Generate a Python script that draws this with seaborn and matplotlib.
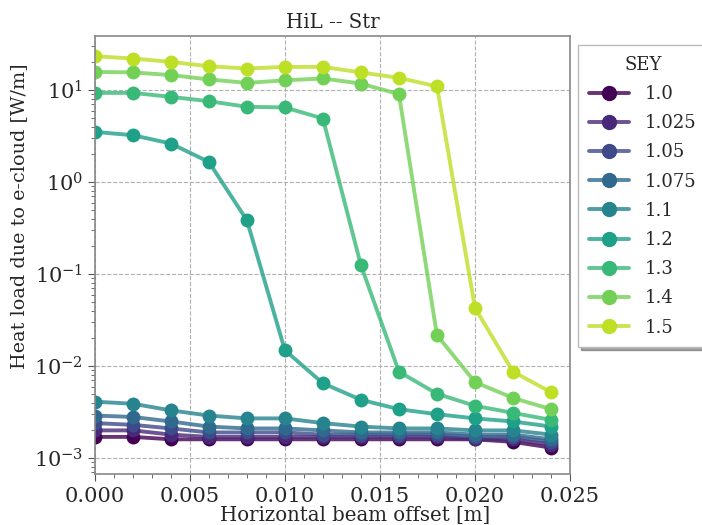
import numpy as np
import pandas as pd
import matplotlib
matplotlib.use("Agg")
import matplotlib.pyplot as plt
import seaborn as sns

offsets = [0.000, 0.002, 0.004, 0.006, 0.008, 0.010, 0.012, 0.014, 0.016, 0.018, 0.020, 0.022, 0.024]
sey_labels = ["1.0", "1.025", "1.05", "1.075", "1.1", "1.2", "1.3", "1.4", "1.5"]

hl_100 = [0.0017, 0.0017, 0.0016, 0.0016, 0.0016, 0.0016, 0.0016, 0.0016, 0.0016, 0.0016, 0.0016, 0.0015, 0.0013]
hl_1025 = [0.0020, 0.0020, 0.0018, 0.0017, 0.0017, 0.0017, 0.0017, 0.0017, 0.0017, 0.0017, 0.0016, 0.0016, 0.0014]
hl_105 = [0.0024, 0.0023, 0.0021, 0.0019, 0.0019, 0.0019, 0.0018, 0.0018, 0.0018, 0.0018, 0.0017, 0.0017, 0.0015]
hl_1075 = [0.0029, 0.0028, 0.0025, 0.0022, 0.0021, 0.0021, 0.0020, 0.0019, 0.0019, 0.0019, 0.0018, 0.0018, 0.0016]
hl_110 = [0.0041, 0.0039, 0.0033, 0.0029, 0.0027, 0.0027, 0.0024, 0.0022, 0.0021, 0.0021, 0.0020, 0.0020, 0.0018]
hl_120 = [3.52, 3.24, 2.63, 1.66, 0.386, 0.0149, 0.0065, 0.0043, 0.0034, 0.0030, 0.0027, 0.0025, 0.0022]
hl_130 = [9.35, 9.35, 8.46, 7.59, 6.6, 6.49, 4.92, 0.125, 0.0087, 0.0050, 0.0037, 0.0031, 0.0026]
hl_140 = [15.8, 15.6, 14.6, 13.1, 12.0, 12.8, 13.4, 11.8, 9.05, 0.0217, 0.0067, 0.0045, 0.0034]
hl_150 = [23.4, 22.1, 20.3, 18.2, 17.2, 17.9, 17.9, 15.6, 13.6, 11.0, 0.043, 0.0087, 0.0052]

series = [hl_100, hl_1025, hl_105, hl_1075, hl_110, hl_120, hl_130, hl_140, hl_150]

rows = []
for lab, vals in zip(sey_labels, series):
    for x, v in zip(offsets, vals):
        rows.append({"offset": x, "heat": v, "SEY": lab})
df = pd.DataFrame(rows)

sns.set_style("ticks")
plt.rcParams["font.family"] = ["DejaVu Serif"]
plt.rcParams["mathtext.fontset"] = "dejavuserif"

colors = [matplotlib.colors.to_hex(c) for c in plt.cm.viridis(np.linspace(0, 0.9, 9))]
palette = dict(zip(sey_labels, colors))

fig = plt.figure(figsize=(7.02, 5.25), dpi=100)
ax = fig.add_axes([0.135, 0.097, 0.677, 0.834])

sns.lineplot(data=df, x="offset", y="heat", hue="SEY", hue_order=sey_labels,
             palette=palette, marker="o", markersize=10, markeredgewidth=0,
             linewidth=2.8, ax=ax, legend=False, sort=False)

for line, c in zip(ax.lines, colors):
    line.set_color(matplotlib.colors.to_rgba(c, 0.8))
    line.set_markerfacecolor(c)
    line.set_markeredgecolor(c)

ax.set_yscale("log")
ax.set_xlim(0, 0.025)
ax.set_ylim(6.7e-4, 38.6)
ax.set_xticks([0.0, 0.005, 0.010, 0.015, 0.020, 0.025])
ax.set_xticklabels(["0.000", "0.005", "0.010", "0.015", "0.020", "0.025"])
ax.xaxis.set_minor_locator(matplotlib.ticker.MultipleLocator(0.001))
ax.tick_params(axis="both", which="major", labelsize=15, length=5, color="#555555")
ax.tick_params(axis="x", which="major", pad=4)
ax.tick_params(axis="both", which="minor", length=3, color="#555555")
ax.grid(True, which="major", linestyle="--", color="#b0b0b0", linewidth=0.8)
for s in ax.spines.values():
    s.set_color("#888888")
    s.set_linewidth(1.2)

ax.set_xlabel("Horizontal beam offset [m]", fontsize=14.2)
ax.xaxis.set_label_coords(0.548, -0.074)
ax.set_ylabel("Heat load due to e-cloud [W/m]", fontsize=13.8)
ax.yaxis.set_label_coords(-0.141, 0.589)
ax.set_title("HiL -- Str", fontsize=14.2)

handles = [matplotlib.lines.Line2D([], [], color=matplotlib.colors.to_rgba(c, 0.8), linewidth=2.8,
                                   marker="o", markersize=10, markerfacecolor=c, markeredgecolor=c)
           for c in colors]
leg = ax.legend(handles, sey_labels, title="SEY", loc="upper left", bbox_to_anchor=(1.017, 0.98),
                borderaxespad=0, fontsize=13, title_fontsize=13, shadow=True, fancybox=False,
                handlelength=2.2, labelspacing=0.62, borderpad=0.6, handletextpad=0.9)
leg.get_frame().set_edgecolor("#bbbbbb")

fig.savefig("out.png", dpi=100)
